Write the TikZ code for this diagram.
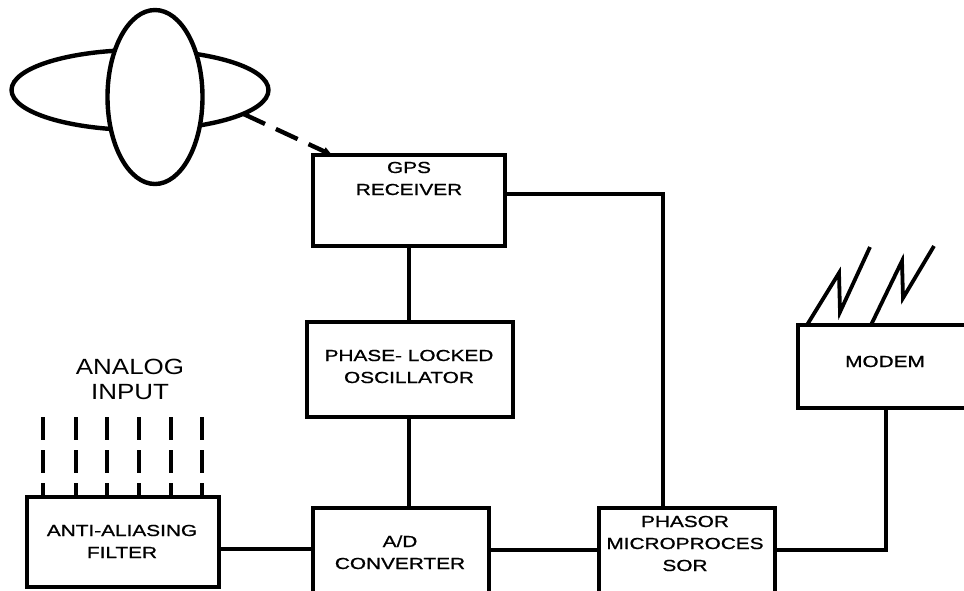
\documentclass[tikz,border=0pt]{standalone}
\usepackage{fontspec}
\usetikzlibrary{shapes.geometric,arrows.meta}
\newfontfamily\lab[FakeStretch=1.3,FakeBold=1]{Liberation Sans}
\newfontfamily\labB[FakeStretch=1.18]{Liberation Sans}
\tikzset{
  box/.style={draw, line width=3.6pt, rectangle, inner sep=0pt, outer sep=0pt},
  wire/.style={line width=3.6pt},
  txt/.style={font=\lab\fontsize{16}{22}\selectfont, align=center, inner sep=0pt, anchor=base},
  bigtxt/.style={font=\labB\fontsize{22}{25}\selectfont, align=center, inner sep=0pt, anchor=base},
  sat/.style={draw, ellipse, line width=4.4pt, inner sep=0pt, outer sep=0pt},
  inwire/.style={line width=3.8pt, dash pattern=on 23pt off 10pt},
}
\begin{document}
\begin{tikzpicture}[x=1pt,y=-1pt]
\useasboundingbox (0,0) rectangle (964,590);
\clip (0,0) rectangle (964,590);
\fill[white] (0,0) rectangle (964,590);
% satellite
\node[sat, minimum width=257pt, minimum height=80pt] (wing) at (140,90) {};
\node[sat, fill=white, minimum width=95pt, minimum height=174pt] (body) at (155,97) {};
% boxes
\node[box, minimum width=192pt, minimum height=91pt] (gps) at (409,200.5) {};
\node[box, minimum width=206pt, minimum height=95pt] (plo) at (410,369.5) {};
\node[box, minimum width=176pt, minimum height=112pt] (ad) at (401,564) {};
\node[box, minimum width=192pt, minimum height=90pt] (aaf) at (123,542) {};
\node[box, minimum width=176pt, minimum height=112pt] (ph) at (687,564) {};
\node[box, minimum width=202pt, minimum height=83pt] (modem) at (899,366.5) {};
% texts (anchor base = last line)
\node[txt] (tgps) at (409,195) {GPS\\RECEIVER};
\node[txt] (tplo) at (409,383) {PHASE- LOCKED\\OSCILLATOR};
\node[txt] (tad) at (400,569) {A/D\\CONVERTER};
\node[txt] (taaf) at (122,558) {ANTI-ALIASING\\FILTER};
\node[txt] (tph) at (685,571) {PHASOR\\MICROPROCES\\SOR};
\node[txt] (tmodem) at (885,367) {MODEM};
\node[bigtxt] (tin) at (130,399) {ANALOG\\INPUT};
% antenna link
\draw[line width=4.4pt, dash pattern=on 24pt off 12pt, -{Triangle[length=9pt,width=8pt]}] (wing.-13) -- ([xshift=19pt]gps.north west);
% connectors
\draw[wire] (gps.south) -- (gps.south |- plo.north);
\draw[wire] (plo.south -| 409,0) -- (409,0 |- ad.north);
\draw[wire] (gps.east |- 0,194) -| (663,0 |- ph.north);
\draw[wire] (aaf.east |- 0,549) -- (ad.west |- 0,549);
\draw[wire] (ad.east |- 0,550) -- (ph.west |- 0,550);
\draw[wire] (ph.east |- 0,550) -| (886,0 |- modem.south);
% analog inputs
\foreach \x in {43,76,107,139,171,202}
  \draw[inwire] (\x,417) -- (\x,0 |- aaf.north);
% radio waves
\draw[line width=3.8pt, line join=miter] (807,325) -- (839,273) -- (840,312) -- (870,247);
\draw[line width=3.8pt, line join=miter] (871,325) -- (902,261) -- (903,298) -- (934,246);
\end{tikzpicture}
\end{document}
